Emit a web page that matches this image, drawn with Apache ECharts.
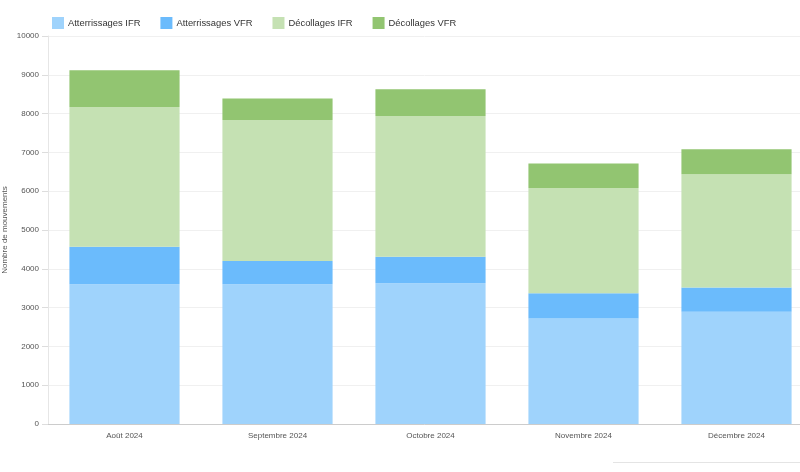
<!DOCTYPE html>
<html>
<head>
<meta charset="utf-8">
<script src="https://cdn.jsdelivr.net/npm/echarts@6/dist/echarts.min.js"></script>
<style>
  html, body { margin: 0; padding: 0; background: #fff; }
  #chart { width: 800px; height: 472px; }
</style>
</head>
<body>
<div id="chart"></div>
<script>
// mois affichés
var months = ['Août 2024', 'Septembre 2024', 'Octobre 2024', 'Novembre 2024', 'Décembre 2024'];
// valeurs
var atterrIFR = [3600, 3600, 3630, 2720, 2890];
var atterrVFR = [970, 600, 680, 650, 630];
var decolIFR = [3600, 3635, 3630, 2710, 2920];
var decolVFR = [950, 555, 690, 635, 640];
var yTicks = [0, 1000, 2000, 3000, 4000, 5000, 6000, 7000, 8000, 9000, 10000];
var yName = 'Nombre de mouvements';

var colors = ['#9fd3fc', '#6bbbfc', '#c5e1b3', '#92c571'];

function serie(name, data, color) {
    return {
        name: name,
        type: 'bar',
        stack: 'total',
        barCategoryGap: '28%',
        data: data,
        itemStyle: { color: color }
    };
}

var myChart = echarts.init(document.getElementById('chart'));
myChart.setOption({
    animation: false,
    textStyle: { fontFamily: 'Liberation Sans, Arial, sans-serif' },
    legend: {
        left: 47,
        top: 12,
        itemWidth: 12,
        itemHeight: 12,
        itemGap: 20,
        icon: 'rect',
        textStyle: { fontSize: 9.4, color: '#333', padding: [0, 0, 0, -1] }
    },
    grid: {
        left: 48,
        top: 36,
        bottom: 48,
        width: 765,
        outerBoundsMode: 'none',
        containLabel: false
    },
    xAxis: {
        type: 'category',
        data: months,
        axisTick: { show: false },
        axisLine: { lineStyle: { color: '#ccc' } },
        axisLabel: { fontSize: 8, color: '#555', margin: 8 }
    },
    yAxis: {
        type: 'value',
        min: yTicks[0],
        max: yTicks[yTicks.length - 1],
        interval: 1000,
        axisLine: { show: true, lineStyle: { color: '#e6e6e6' } },
        axisTick: { show: true, length: 6, lineStyle: { color: '#ddd' } },
        axisLabel: { fontSize: 8, color: '#555', margin: 9, formatter: function (v) { return String(v); } },
        splitLine: { lineStyle: { color: '#f0f0f0' } }
    },
    graphic: [{
        // titre de l'axe vertical
        type: 'text',
        x: 5,
        y: 230,
        rotation: Math.PI / 2,
        style: {
            text: yName,
            fill: '#555',
            font: '8px Liberation Sans, Arial, sans-serif',
            align: 'center',
            verticalAlign: 'middle'
        }
    }, {
        type: 'line',
        shape: { x1: 613, y1: 462.5, x2: 800, y2: 462.5 },
        style: { stroke: '#e4e4e4', lineWidth: 1 }
    }],
    series: [
        serie('Atterrissages IFR', atterrIFR, colors[0]),
        serie('Atterrissages VFR', atterrVFR, colors[1]),
        serie('Décollages IFR', decolIFR, colors[2]),
        serie('Décollages VFR', decolVFR, colors[3])
    ]
});
</script>
</body>
</html>
